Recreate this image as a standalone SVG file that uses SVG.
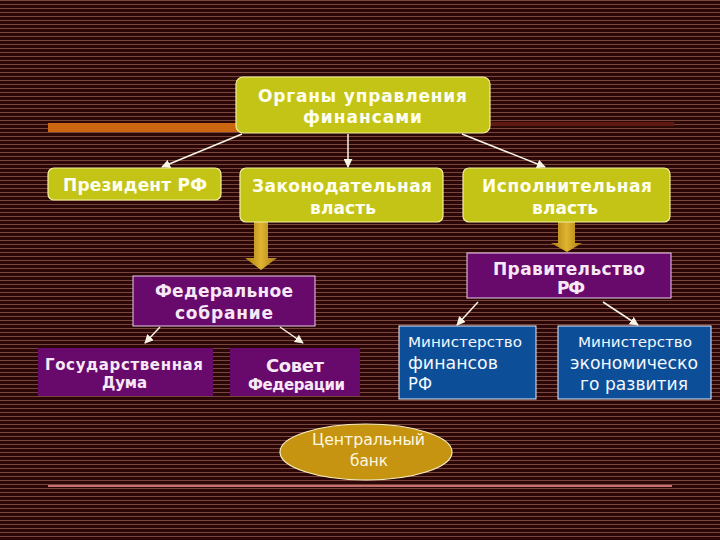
<svg xmlns="http://www.w3.org/2000/svg" width="720" height="540" viewBox="0 0 720 540">
<defs>
<pattern id="bg" width="8" height="4" patternUnits="userSpaceOnUse">
<rect width="8" height="4" fill="#2c0707"/>
<rect y="0" width="8" height="1" fill="#7a463c"/>
</pattern>
<linearGradient id="gold" x1="0" y1="0" x2="1" y2="0">
<stop offset="0" stop-color="#a87a10"/>
<stop offset="0.5" stop-color="#e0b430"/>
<stop offset="1" stop-color="#a87a10"/>
</linearGradient>
<marker id="ah" viewBox="0 0 10 10" refX="9" refY="5" markerWidth="9" markerHeight="9" markerUnits="userSpaceOnUse" orient="auto">
<path d="M0,0 L10,5 L0,10 z" fill="#f8f4e8"/>
</marker>
<style>
.yel{fill:#c4c416;stroke:#f0f0a0;stroke-width:1.2}
.pur{fill:#680a6c}
.purb{fill:#680a6c;stroke:#e8d0e8;stroke-width:1}
.blu{fill:#0c4e98;stroke:#e8f0ff;stroke-width:1}
.ty{font-family:"DejaVu Sans",Verdana,sans-serif;font-weight:bold;font-size:17px;fill:#fffff0}
.tp{font-family:"DejaVu Sans",Verdana,sans-serif;font-weight:bold;font-size:17px;fill:#f6e8f6}
.tb{font-family:"DejaVu Sans",Verdana,sans-serif;fill:#f4f8ff}
.conn line{stroke:#f8f4e8;stroke-width:1.5;marker-end:url(#ah)}
</style>
</defs>
<rect width="720" height="540" fill="url(#bg)"/>
<rect x="48" y="123" width="190" height="9" fill="#cc6611"/>
<rect x="488" y="122" width="186" height="4" fill="#5e1a10"/>
<rect x="48" y="485" width="624" height="2" fill="#c87070"/>

<g id="connectors" class="conn">
<line x1="242" y1="134" x2="162" y2="167"/>
<line x1="348" y1="134" x2="348" y2="167"/>
<line x1="462" y1="134" x2="545" y2="167"/>
<line x1="160" y1="327" x2="145" y2="343"/>
<line x1="280" y1="327" x2="303" y2="343"/>
<line x1="478" y1="302" x2="457" y2="325"/>
<line x1="603" y1="302" x2="638" y2="325"/>
<polygon points="254,222 268,222 268,258 277,258 261,270 245,258 254,258" fill="url(#gold)"/>
<polygon points="558,222 575,222 575,243 582,243 567,252 551,243 558,243" fill="url(#gold)"/>
</g>

<g id="organy">
<rect class="yel" x="236" y="77" width="254" height="56" rx="7"/>
<text class="ty" x="258" y="102" textLength="209" lengthAdjust="spacing">Органы управления</text>
<text class="ty" x="303" y="123" textLength="119" lengthAdjust="spacing">финансами</text>
</g>
<g id="president">
<rect class="yel" x="48" y="168" width="173" height="32" rx="6"/>
<text class="ty" x="63" y="191" textLength="144" lengthAdjust="spacing">Президент РФ</text>
</g>
<g id="zakonod">
<rect class="yel" x="240" y="168" width="203" height="54" rx="6"/>
<text class="ty" x="252" y="192" textLength="180" lengthAdjust="spacing">Законодательная</text>
<text class="ty" x="310" y="214" textLength="66" lengthAdjust="spacing">власть</text>
</g>
<g id="ispoln">
<rect class="yel" x="463" y="168" width="207" height="54" rx="6"/>
<text class="ty" x="482" y="192" textLength="170" lengthAdjust="spacing">Исполнительная</text>
<text class="ty" x="532" y="214" textLength="66" lengthAdjust="spacing">власть</text>
</g>
<g id="pravitelstvo">
<rect class="purb" x="467" y="253" width="204" height="45"/>
<text class="tp" x="493" y="275" textLength="152" lengthAdjust="spacing">Правительство</text>
<text class="tp" x="557" y="294" textLength="28" lengthAdjust="spacing">РФ</text>
</g>
<g id="fedsobr">
<rect class="purb" x="133" y="276" width="182" height="50"/>
<text class="tp" x="155" y="297" textLength="138" lengthAdjust="spacing">Федеральное</text>
<text class="tp" x="175" y="319" textLength="98" lengthAdjust="spacing">собрание</text>
</g>
<g id="gosduma">
<rect class="pur" x="38" y="348" width="175" height="48"/>
<text class="tp" x="45" y="370" style="font-size:15px" textLength="158" lengthAdjust="spacing">Государственная</text>
<text class="tp" x="102" y="388" style="font-size:15px" textLength="45" lengthAdjust="spacing">Дума</text>
</g>
<g id="sovfed">
<rect class="pur" x="230" y="348" width="130" height="48"/>
<text class="tp" x="266" y="372" style="font-size:18px" textLength="58" lengthAdjust="spacing">Совет</text>
<text class="tp" x="248" y="390" style="font-size:15px" textLength="97" lengthAdjust="spacing">Федерации</text>
</g>
<g id="minfin">
<rect class="blu" x="399" y="326" width="137" height="73"/>
<text class="tb" x="408" y="347" font-size="14" textLength="114" lengthAdjust="spacingAndGlyphs">Министерство</text>
<text class="tb" x="408" y="369" font-size="17" textLength="90" lengthAdjust="spacingAndGlyphs">финансов</text>
<text class="tb" x="408" y="390" font-size="17" textLength="24" lengthAdjust="spacingAndGlyphs">РФ</text>
</g>
<g id="minek">
<rect class="blu" x="558" y="326" width="153" height="73"/>
<text class="tb" x="578" y="347" font-size="14" textLength="114" lengthAdjust="spacingAndGlyphs">Министерство</text>
<text class="tb" x="570" y="369" font-size="17" textLength="128" lengthAdjust="spacingAndGlyphs">экономическо</text>
<text class="tb" x="580" y="390" font-size="17" textLength="108" lengthAdjust="spacingAndGlyphs">го развития</text>
</g>
<g id="cbank">
<ellipse cx="366" cy="452" rx="86" ry="28" fill="#c69410" stroke="#f8f0c0" stroke-width="1.2"/>
<text class="tb" x="312" y="445" font-size="16" style="fill:#fff8e0" textLength="113" lengthAdjust="spacingAndGlyphs">Центральный</text>
<text class="tb" x="350" y="466" font-size="16" style="fill:#fff8e0" textLength="38" lengthAdjust="spacingAndGlyphs">банк</text>
</g>
</svg>
